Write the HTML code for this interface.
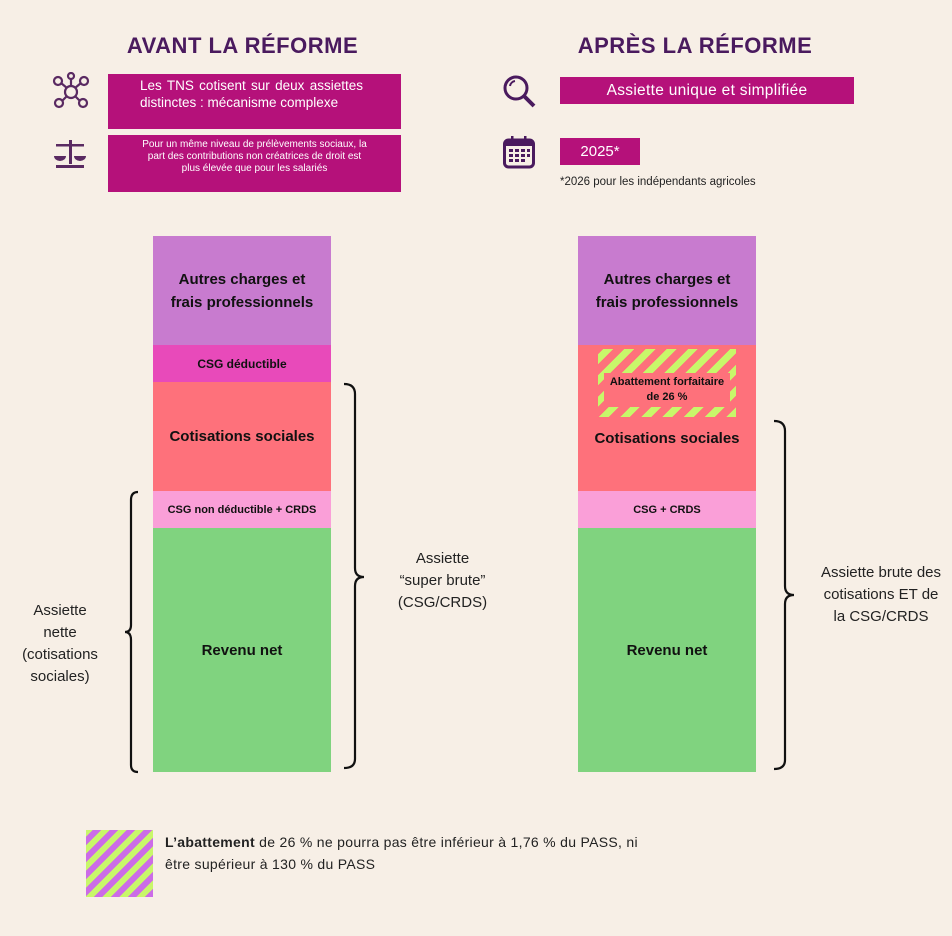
<!DOCTYPE html>
<html><head><meta charset="utf-8"><style>
*{margin:0;padding:0;box-sizing:border-box}
body{width:952px;height:936px;background:#f7efe6;position:relative;overflow:hidden;font-family:"Liberation Sans",sans-serif;color:#111}
.a{position:absolute}
.t{font-weight:bold;color:#4a1a5e;font-size:22px;letter-spacing:0.5px;text-align:center}
.mb{background:#b5117a;color:#fff;position:absolute}
.seg{position:absolute;display:flex;align-items:center;justify-content:center;text-align:center;font-weight:bold}
.lbl{position:absolute;text-align:center;font-size:15px;line-height:22px;color:#222}
</style></head><body>
<div class="a t" style="left:95px;top:33px;width:295px">AVANT LA RÉFORME</div>
<div class="a t" style="left:550px;top:33px;width:290px">APRÈS LA RÉFORME</div>

<svg class="a" style="left:52px;top:72px" width="38" height="40" viewBox="0 0 38 40" fill="none" stroke="#5a2a62" stroke-width="2.2"><circle cx="19" cy="20" r="6"/><circle cx="6" cy="9" r="4"/><circle cx="32" cy="9" r="4"/><circle cx="31" cy="31" r="4"/><circle cx="7" cy="31" r="4"/><circle cx="19" cy="4" r="3"/><path d="M9 11L15 16M29 11L23 16M28 29L23 24M10 29L15 24M19 7V14"/></svg>
<svg class="a" style="left:52px;top:138px" width="36" height="32" viewBox="0 0 36 32" fill="#5a2a62"><rect x="17" y="2" width="3" height="24"/><rect x="4" y="6" width="28" height="2.5"/><path d="M2 18h12a6 5 0 0 1-12 0zM22 18h12a6 5 0 0 1-12 0z"/><rect x="4" y="27" width="28" height="3"/></svg>

<div class="mb" style="left:108px;top:74px;width:293px;height:55px;padding:3px 38px 0 32px;font-size:13.5px;line-height:17px;text-align:justify;text-align-last:left">Les TNS cotisent sur deux assiettes distinctes : mécanisme complexe</div>
<div class="mb" style="left:108px;top:135px;width:293px;height:57px;padding:4px 32px 0 32px;font-size:10px;line-height:12px;text-align:center">Pour un même niveau de prélèvements sociaux, la part des contributions non créatrices de droit est plus élevée que pour les salariés</div>

<svg class="a" style="left:502px;top:74px" width="34" height="34" viewBox="0 0 34 34" fill="none" stroke="#4a1a5e" stroke-width="3"><circle cx="14" cy="14" r="11"/><path d="M22 22L32 32" stroke-width="4"/><path d="M8 12a6 6 0 0 1 5-5" stroke-width="2"/></svg>
<svg class="a" style="left:503px;top:136px" width="32" height="33" viewBox="0 0 32 33"><rect x="1.5" y="4" width="29" height="27" rx="4" fill="none" stroke="#4a1a5e" stroke-width="3"/><rect x="1.5" y="4" width="29" height="6" fill="#4a1a5e"/><g fill="#4a1a5e"><rect x="8" y="0" width="2.5" height="6"/><rect x="21" y="0" width="2.5" height="6"/><rect x="6" y="13" width="4" height="3"/><rect x="12" y="13" width="4" height="3"/><rect x="18" y="13" width="4" height="3"/><rect x="24" y="13" width="3" height="3"/><rect x="6" y="18" width="4" height="3"/><rect x="12" y="18" width="4" height="3"/><rect x="18" y="18" width="4" height="3"/><rect x="24" y="18" width="3" height="3"/><rect x="6" y="23" width="4" height="3"/><rect x="12" y="23" width="4" height="3"/><rect x="18" y="23" width="4" height="3"/></g></svg>

<div class="mb" style="left:560px;top:77px;width:294px;height:27px;font-size:15.5px;line-height:27px;text-align:center;letter-spacing:0.3px">Assiette unique et simplifiée</div>
<div class="mb" style="left:560px;top:138px;width:80px;height:27px;font-size:15px;line-height:27px;text-align:center">2025*</div>
<div class="a" style="left:560px;top:176px;font-size:11.5px;color:#222">*2026 pour les indépendants agricoles</div>

<div class="seg" style="left:153px;top:236px;width:178px;height:109px;background:#c87bcf;font-size:15px;line-height:23px">Autres charges et<br>frais professionnels</div>
<div class="seg" style="left:153px;top:345px;width:178px;height:37px;background:#e84aba;font-size:12px">CSG déductible</div>
<div class="seg" style="left:153px;top:382px;width:178px;height:109px;background:#fe717b;font-size:15px">Cotisations sociales</div>
<div class="seg" style="left:153px;top:491px;width:178px;height:37px;background:#fa9fd8;font-size:11px">CSG non déductible + CRDS</div>
<div class="seg" style="left:153px;top:528px;width:178px;height:244px;background:#80d37f;font-size:15px">Revenu net</div>

<div class="seg" style="left:578px;top:236px;width:178px;height:109px;background:#c87bcf;font-size:15px;line-height:23px">Autres charges et<br>frais professionnels</div>
<div class="seg" style="left:578px;top:345px;width:178px;height:146px;background:#fe717b;font-size:15px;padding-top:40px">Cotisations sociales</div>
<div class="a" style="left:598px;top:349px;width:138px;height:68px;background:repeating-linear-gradient(-45deg,#c8f76a 0 7px,transparent 7px 15px)"></div>
<div class="seg" style="left:604px;top:373px;width:126px;height:34px;background:#fe717b;font-size:11px;line-height:15px">Abattement forfaitaire<br>de 26 %</div>
<div class="seg" style="left:578px;top:491px;width:178px;height:37px;background:#fa9fd8;font-size:11px">CSG + CRDS</div>
<div class="seg" style="left:578px;top:528px;width:178px;height:244px;background:#80d37f;font-size:15px">Revenu net</div>

<svg class="a" style="left:0;top:0" width="952" height="936" fill="none" stroke="#111" stroke-width="2.2">
<path d="M138 492Q131 492 131 500V625Q131 632 125 632Q131 632 131 640V765Q131 772 138 772"/>
<path d="M344 384Q355 384 355 394V568Q355 577 364 577Q355 577 355 586V759Q355 768 344 768"/>
<path d="M774 421Q785 421 785 431V586Q785 595 794 595Q785 595 785 604V760Q785 769 774 769"/>
</svg>
<div class="lbl" style="left:10px;top:600px;width:100px">Assiette<br>nette<br>(cotisations<br>sociales)</div>
<div class="lbl" style="left:385px;top:548px;width:115px">Assiette<br>“super brute”<br>(CSG/CRDS)</div>
<div class="lbl" style="left:810px;top:562px;width:142px">Assiette brute des<br>cotisations ET de<br>la CSG/CRDS</div>

<div class="a" style="left:86px;top:830px;width:67px;height:67px;background:repeating-linear-gradient(-45deg,#cc6be8 0 6px,#c8f76a 6px 12px)"></div>
<div class="a" style="left:165px;top:831px;font-size:14px;line-height:22px;color:#222;width:560px;letter-spacing:0.3px">
<b>L’abattement</b> de 26 % ne pourra pas être inférieur à 1,76 % du PASS, ni<br>être supérieur à 130 % du PASS</div>
</body></html>
